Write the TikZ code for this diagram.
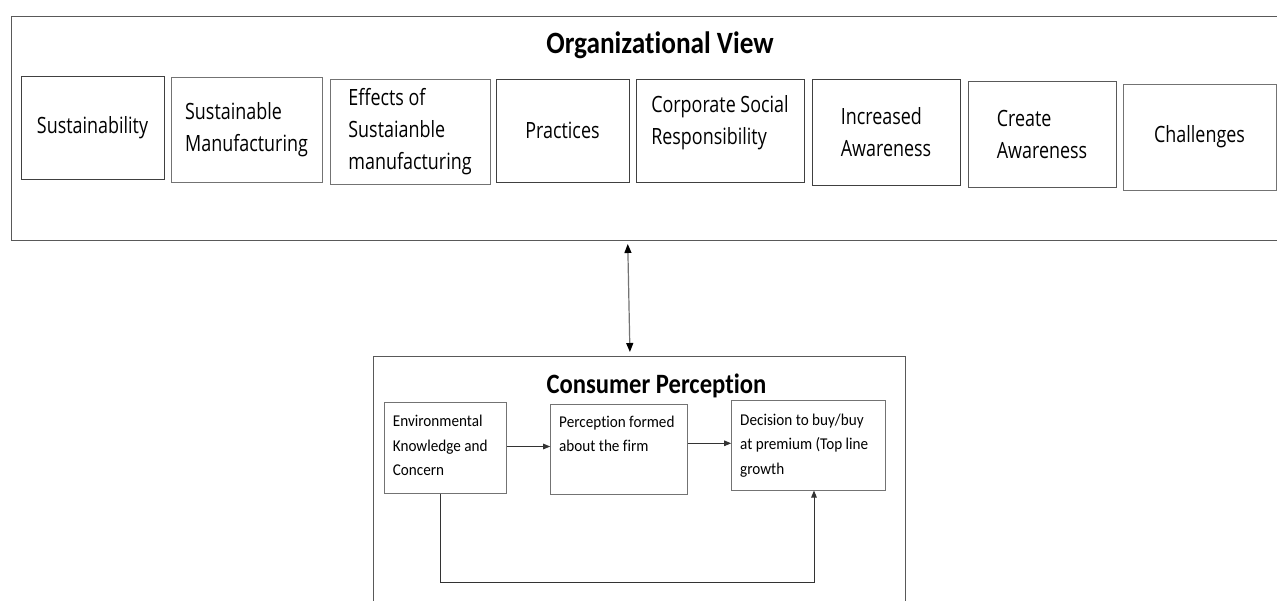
\documentclass[tikz,border=0pt]{standalone}
\usepackage{fontspec}
\setmainfont{Carlito}
\newfontfamily\headfont{Carlito}[FakeStretch=0.88, Ligatures=NoCommon]
\newfontfamily\bodyfont{Carlito}[FakeStretch=0.92, Ligatures=NoCommon]
\newfontfamily\itemfont{Open Sans}[FakeStretch=0.8]
\usetikzlibrary{arrows.meta}

\tikzset{
  frame/.style={draw=black!65, line width=1pt, inner sep=0pt, anchor=north west},
  itembox/.style={draw=black!75, line width=1pt, inner sep=0pt, align=left,
    font=\itemfont\fontsize{22.4}{32}\selectfont},
  flowbox/.style={draw=black!55, line width=1pt, inner sep=0pt},
  flowtext/.style={inner sep=0pt, anchor=north west, align=left,
    font=\bodyfont\fontsize{16.5}{24.5}\selectfont},
  heading/.style={inner sep=0pt, anchor=base, font=\headfont\bfseries},
  arr/.style={draw=black!80, line width=1pt, -{Triangle[length=7pt,width=5.5pt]}},
  dblarr/.style={draw=black!55, line width=1.2pt,
    {Triangle[length=9pt,width=7pt,fill=black,color=black]}-{Triangle[length=9pt,width=7pt,fill=black,color=black]}}
}

\begin{document}
\begin{tikzpicture}[x=1pt, y=-1pt]
\useasboundingbox (0,0) rectangle (1277,600);
\clip (0,0) rectangle (1277,600);

% organisational frame and its items
\node[frame, minimum width=1300pt, minimum height=224pt] (org) at (11,16) {};
\node[heading, font=\headfont\bfseries\fontsize{31}{36}\selectfont] (orgtitle) at (660,53.3) {Organizational View};

\node[itembox, minimum width=143pt, minimum height=103pt] (sust) at (92.5,127.5) {Sustainability};
\node[itembox, draw=black!55, minimum width=151pt, minimum height=105pt] (sman) at (246.5,129.5) {Sustainable\\Manufacturing};
\node[itembox, draw=black!55, minimum width=160pt, minimum height=105pt] (eff) at (410,131.5) {Effects of\\Sustaianble\\manufacturing};
\node[itembox, minimum width=133pt, minimum height=103pt] (prac) at (562.5,130.5) {Practices};
\node[itembox, minimum width=168pt, minimum height=103pt] (csr) at (720,130.5) {Corporate Social\\Responsibility\vphantom{g}\\[-10pt]};
\node[itembox, minimum width=148pt, minimum height=106pt] (inc) at (886,132) {Increased\\Awareness};
\node[itembox, draw=black!65, minimum width=148pt, minimum height=106pt] (cre) at (1042,134) {Create\\Awareness\hspace{12pt}};
\node[itembox, draw=black!55, minimum width=153pt, minimum height=106pt] (chal) at (1199.5,137) {Challenges};

% consumer frame
\node[frame, minimum width=531.5pt, minimum height=320pt] (cons) at (373,356) {};
\node[heading, font=\headfont\bfseries\fontsize{28}{33}\selectfont] (constitle) at (656.5,393.6) {Consumer Perception};

% link between the two views
\draw[dblarr, shorten <=3pt, shorten >=4pt] ([xshift=616.7pt]org.south west) -- ([xshift=257pt]cons.north west);

% consumer decision flow
\node[flowbox, minimum width=122.5pt, minimum height=91pt] (env) at (445.25,447.5) {};
\node[flowbox, minimum width=136.6pt, minimum height=90pt] (perc) at (619,449) {};
\node[flowbox, minimum width=154pt, minimum height=89.3pt] (dec) at (808.7,445.35) {};

\node[flowtext] (envtext) at (392.7,409.6) {\strut Environmental\\Knowledge and\\Concern};
\node[flowtext] (perctext) at (559,409.9) {\strut Perception formed\\about the firm};
\node[flowtext] (dectext) at (740,407.9) {\strut Decision to buy/buy\\at premium (Top line\\growth};

\draw[arr] ([yshift=1pt]env.east) -- ([yshift=1pt]env.east -| perc.west);
\draw[arr] ([yshift=5.7pt]perc.east) -- ([yshift=5.7pt]perc.east -| dec.west);

\coordinate (envout) at ([xshift=-4.5pt]env.south);
\coordinate (decin) at ([xshift=5.3pt]dec.south);
\coordinate (loopy) at (0,582.7);
\draw[arr] (envout) |- (decin |- loopy) -- (decin);
\end{tikzpicture}
\end{document}
